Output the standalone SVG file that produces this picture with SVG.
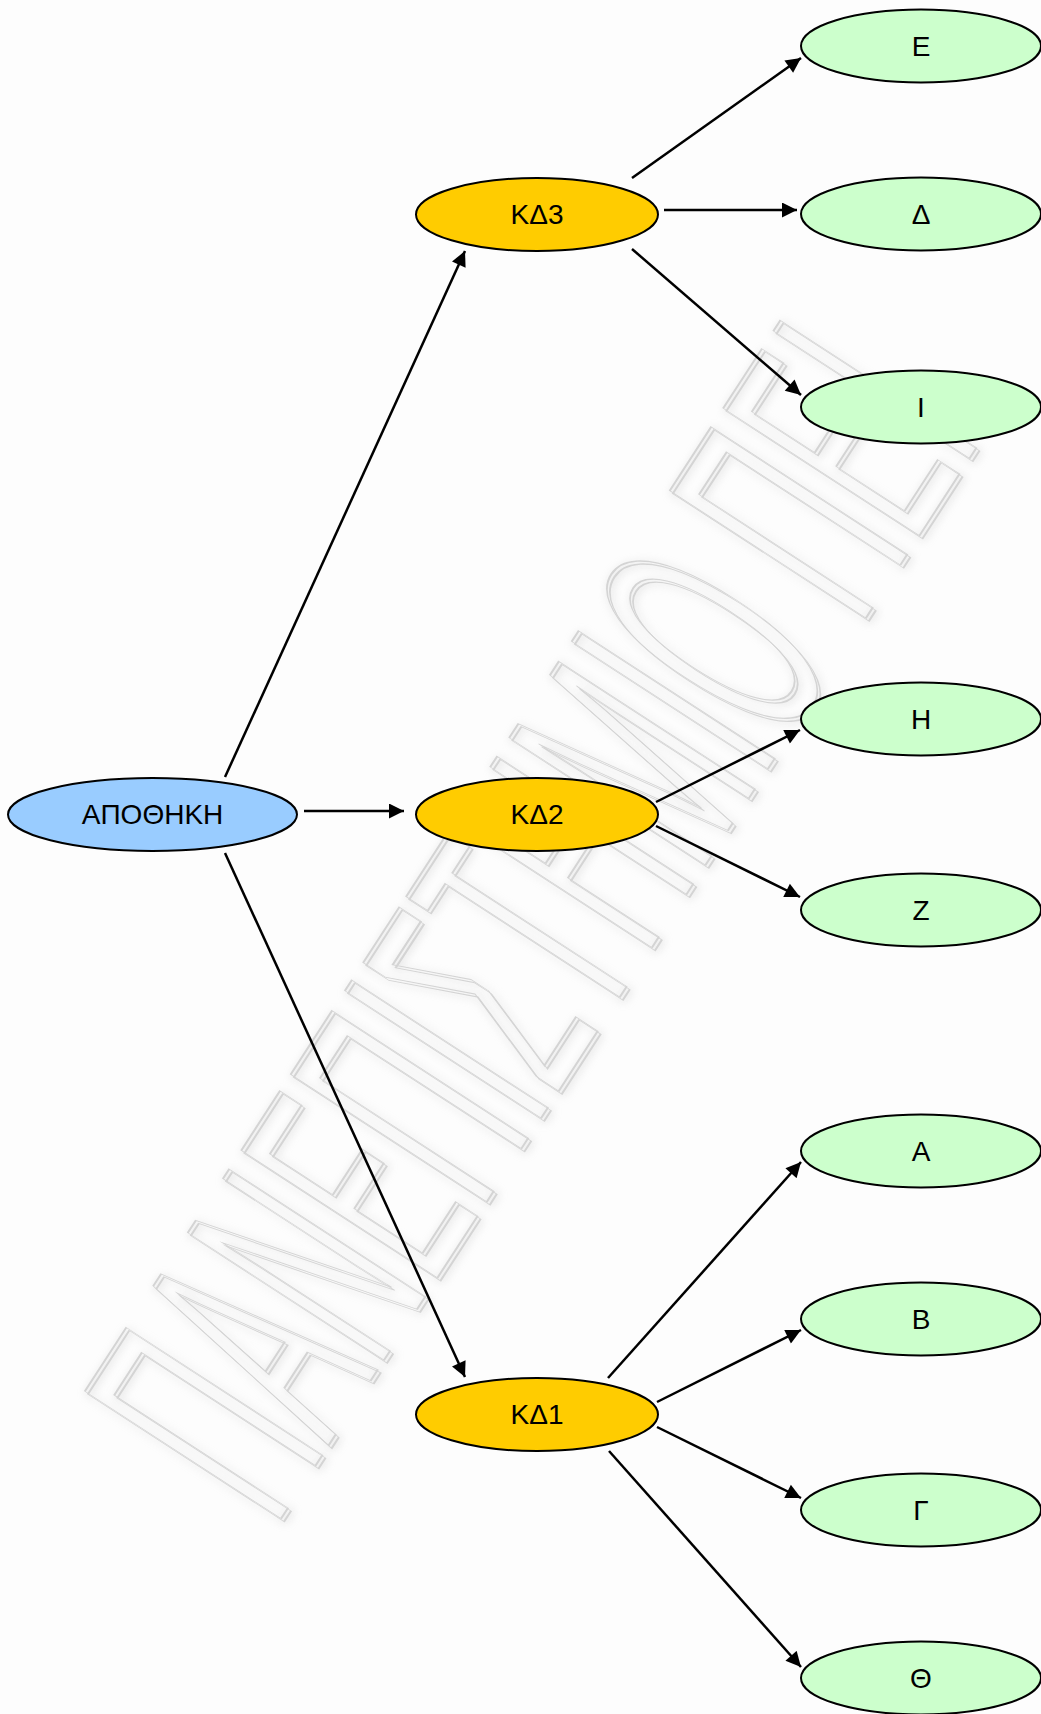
<svg xmlns="http://www.w3.org/2000/svg" width="1041" height="1714" viewBox="0 0 1041 1714">
<defs>
<style>
.lbl{font-family:"Liberation Sans",Arial,sans-serif;font-size:28px;fill:#000;text-anchor:middle}
.root{fill:#99ccff;stroke:#000;stroke-width:2}
.mid{fill:#ffcc00;stroke:#000;stroke-width:2}
.leaf{fill:#ccffcc;stroke:#000;stroke-width:2}
.edge{stroke:#000;stroke-width:2.5;fill:none;marker-end:url(#arr)}
.wm{font-family:"Liberation Sans",Arial,sans-serif;font-size:340px;fill:none;stroke:#d4d4d4;stroke-width:2}
</style>
<filter id="emb" x="-5%" y="-5%" width="110%" height="110%">
<feOffset in="SourceGraphic" dx="3" dy="3" result="o"/>
<feGaussianBlur in="o" stdDeviation="5" result="b"/>
<feMerge><feMergeNode in="b"/><feMergeNode in="b"/><feMergeNode in="o"/><feMergeNode in="SourceGraphic"/></feMerge>
</filter>
<marker id="arr" viewBox="0 0 10 10" refX="10" refY="5" markerWidth="6.5" markerHeight="6" orient="auto" markerUnits="strokeWidth">
<path d="M0,0 L10,5 L0,10 z" fill="#000"/>
</marker>
</defs>
<rect width="1041" height="1714" fill="#fdfdfd"/>
<g id="watermark" filter="url(#emb)">
<g transform="translate(275,1528) rotate(-57) scale(0.4,1)">
<text class="wm">ΠΑΝΕΠΙΣΤΗΜΙΟ ΠΕΙ</text>
</g>
</g>
<g id="connectors">
<line class="edge" x1="225" y1="777" x2="465" y2="251"/>
<line class="edge" x1="304" y1="811" x2="404" y2="811"/>
<line class="edge" x1="225" y1="853" x2="465" y2="1377"/>
<line class="edge" x1="632" y1="178" x2="801" y2="58"/>
<line class="edge" x1="664" y1="210" x2="797" y2="210"/>
<line class="edge" x1="632" y1="249" x2="801" y2="395"/>
<line class="edge" x1="656" y1="802" x2="800" y2="730"/>
<line class="edge" x1="656" y1="826" x2="800" y2="897"/>
<line class="edge" x1="608" y1="1378" x2="801" y2="1162"/>
<line class="edge" x1="657" y1="1402" x2="801" y2="1330"/>
<line class="edge" x1="657" y1="1427" x2="801" y2="1498"/>
<line class="edge" x1="609" y1="1451" x2="801" y2="1667"/>
</g>
<g id="n-apothiki"><ellipse class="root" cx="152.5" cy="814.5" rx="144.5" ry="36.5"/><text class="lbl" x="152.5" y="824">ΑΠΟΘΗΚΗ</text></g>
<g id="n-kd3"><ellipse class="mid" cx="537" cy="214.5" rx="121" ry="36.5"/><text class="lbl" x="537" y="224">ΚΔ3</text></g>
<g id="n-kd2"><ellipse class="mid" cx="537" cy="814.5" rx="121" ry="36.5"/><text class="lbl" x="537" y="824">ΚΔ2</text></g>
<g id="n-kd1"><ellipse class="mid" cx="537" cy="1414.5" rx="121" ry="36.5"/><text class="lbl" x="537" y="1424">ΚΔ1</text></g>
<g id="n-e"><ellipse class="leaf" cx="921" cy="46" rx="120" ry="36.5"/><text class="lbl" x="921" y="56">Ε</text></g>
<g id="n-d"><ellipse class="leaf" cx="921" cy="214" rx="120" ry="36.5"/><text class="lbl" x="921" y="224">Δ</text></g>
<g id="n-i"><ellipse class="leaf" cx="921" cy="407" rx="120" ry="36.5"/><text class="lbl" x="921" y="417">Ι</text></g>
<g id="n-h"><ellipse class="leaf" cx="921" cy="719" rx="120" ry="36.5"/><text class="lbl" x="921" y="729">Η</text></g>
<g id="n-z"><ellipse class="leaf" cx="921" cy="910" rx="120" ry="36.5"/><text class="lbl" x="921" y="920">Ζ</text></g>
<g id="n-a"><ellipse class="leaf" cx="921" cy="1151" rx="120" ry="36.5"/><text class="lbl" x="921" y="1161">Α</text></g>
<g id="n-b"><ellipse class="leaf" cx="921" cy="1319" rx="120" ry="36.5"/><text class="lbl" x="921" y="1329">Β</text></g>
<g id="n-g"><ellipse class="leaf" cx="921" cy="1510" rx="120" ry="36.5"/><text class="lbl" x="921" y="1520">Γ</text></g>
<g id="n-th"><ellipse class="leaf" cx="921" cy="1678" rx="120" ry="36.5"/><text class="lbl" x="921" y="1688">Θ</text></g>
</svg>
